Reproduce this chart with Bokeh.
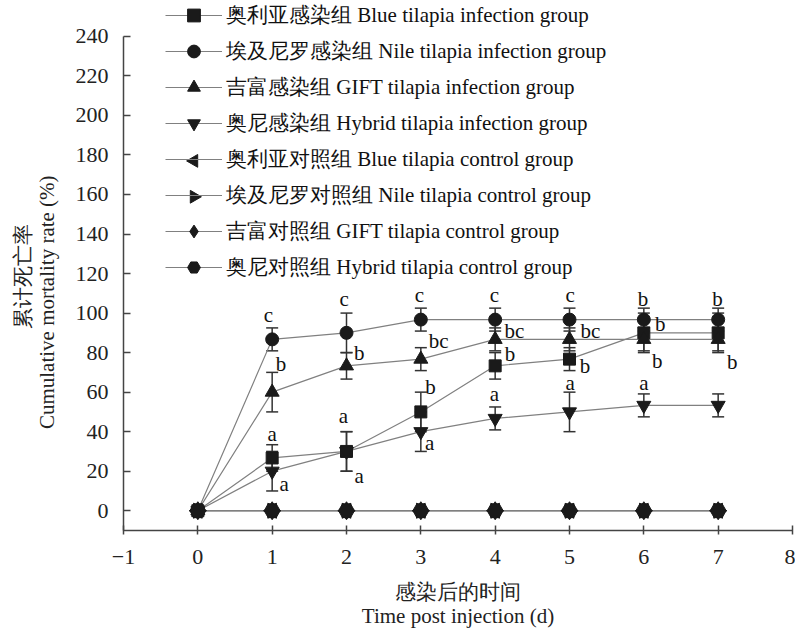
import math
from bokeh.plotting import figure
from bokeh.models import (ColumnDataSource, Whisker, TeeHead, Legend, LegendItem,
                          FixedTicker, Range1d)
from bokeh.core.properties import value
from bokeh.embed import file_html
from bokeh.resources import INLINE

# ---------------- data ----------------
days = [0, 1, 2, 3, 4, 5, 6, 7]
x_ticks = [-1, 0, 1, 2, 3, 4, 5, 6, 7, 8]
y_ticks = [0, 20, 40, 60, 80, 100, 120, 140, 160, 180, 200, 220, 240]

blue_inf = [0, 26.7, 30, 50, 73.3, 76.7, 90, 90]
blue_inf_err = [0, 6.7, 10, 10, 6.7, 5.8, 10, 10]
nile_inf = [0, 86.7, 90, 96.7, 96.7, 96.7, 96.7, 96.7]
nile_inf_err = [0, 5.8, 10, 5.8, 5.8, 5.8, 5.8, 5.8]
gift_inf = [0, 60, 73.3, 76.7, 86.7, 86.7, 86.7, 86.7]
gift_inf_err = [0, 10, 6.7, 5.8, 5.8, 5.8, 5.8, 5.8]
hybrid_inf = [0, 20, 30, 40, 46.7, 50, 53.3, 53.3]
hybrid_inf_err = [0, 10, 10, 10, 5.8, 10, 5.8, 5.8]
blue_ctl = [0, 0, 0, 0, 0, 0, 0, 0]
nile_ctl = [0, 0, 0, 0, 0, 0, 0, 0]
gift_ctl = [0, 0, 0, 0, 0, 0, 0, 0]
hybrid_ctl = [0, 0, 0, 0, 0, 0, 0, 0]

labels = [
    "奥利亚感染组 Blue tilapia infection group",
    "埃及尼罗感染组 Nile tilapia infection group",
    "吉富感染组 GIFT tilapia infection group",
    "奥尼感染组 Hybrid tilapia infection group",
    "奥利亚对照组 Blue tilapia control group",
    "埃及尼罗对照组 Nile tilapia control group",
    "吉富对照组 GIFT tilapia control group",
    "奥尼对照组 Hybrid tilapia control group",
]

# significance letters (day position, % position, letter)
letter_x = [0.95, 1.12, 1.0, 1.16,
            1.97, 2.17, 1.96, 2.17,
            2.98, 3.24, 3.13, 3.12,
            3.99, 4.26, 4.20, 3.99,
            5.01, 5.28, 5.21, 5.01,
            5.99, 6.22, 6.18, 6.0,
            6.99, 7.19]
letter_y = [99, 74, 39, 13.6,
            107, 79.7, 48, 17.6,
            109.4, 85.7, 62.5, 34.3,
            109.4, 90.8, 79.2, 59,
            109.4, 90.8, 73.1, 64.5,
            107, 94.3, 75.6, 64.5,
            107, 75.1]
letter_text = ["c", "b", "a", "a",
               "c", "b", "a", "a",
               "c", "bc", "b", "a",
               "c", "bc", "b", "a",
               "c", "bc", "b", "a",
               "b", "b", "b", "a",
               "b", "b"]

# ---------------- layout ----------------
W, H = 795, 630
BL, BR, BT, BB = 123, 3, 0, 98
X0, X1 = -1, 8
Y0, Y_AXIS_TOP = -10, 240
frame_w = W - BL - BR
frame_h = H - BT - BB
px_per_unit = 496 / (Y_AXIS_TOP - Y0)      # vertical scale of the axis
Y1 = Y0 + frame_h / px_per_unit            # room above the axis for the legend

p = figure(width=W, height=H, x_range=Range1d(X0, X1), y_range=Range1d(Y0, Y1),
           output_backend="svg", toolbar_location=None,
           min_border_left=BL, min_border_right=BR, min_border_top=BT, min_border_bottom=BB)
p.outline_line_color = None
p.grid.visible = False
p.background_fill_color = "white"

series = [
    (blue_inf, blue_inf_err, "square", 0.0, 12),
    (nile_inf, nile_inf_err, "circle", 0.0, 13),
    (gift_inf, gift_inf_err, "triangle", 0.0, 14),
    (hybrid_inf, hybrid_inf_err, "inverted_triangle", 0.0, 14),
    (blue_ctl, None, "triangle", math.pi / 2, 15),
    (nile_ctl, None, "triangle", -math.pi / 2, 15),
    (gift_ctl, None, "diamond", 0.0, 18),
    (hybrid_ctl, None, "hex", 0.0, 16),
]

line_color = "#808080"
ink = "#1a1a1a"

line_rs = []
for vals, err, mk, ang, sz in series:
    line_rs.append(p.line(days, vals, line_color=line_color, line_width=1.2))

for vals, err, mk, ang, sz in series:
    if err is None:
        continue
    src = ColumnDataSource(dict(base=days[1:],
                                upper=[v + e for v, e in zip(vals[1:], err[1:])],
                                lower=[v - e for v, e in zip(vals[1:], err[1:])]))
    w = Whisker(source=src, base="base", upper="upper", lower="lower",
                line_color="#333333", line_width=1.5,
                upper_head=TeeHead(size=12, line_color="#333333", line_width=1.5),
                lower_head=TeeHead(size=12, line_color="#333333", line_width=1.5))
    p.add_layout(w)

marker_rs = []
for vals, err, mk, ang, sz in series:
    marker_rs.append(p.scatter(days, vals, marker=mk, angle=ang, size=sz,
                               fill_color=ink, line_color=ink))

p.text(x=letter_x, y=letter_y, text=letter_text, text_font=value("Liberation Serif"),
       text_font_size="21px", text_align="center", text_baseline="middle", text_color="#111111")

# ---------------- legend ----------------
LEG_X, LEG_Y = 42, 247
GW, GH, SP = 57, 32, 4
rotated = [ang != 0.0 for (_, _, _, ang, _) in series]
items = []
for lab, lr, mr, rot in zip(labels, line_rs, marker_rs, rotated):
    items.append(LegendItem(label=lab, renderers=[lr] if rot else [lr, mr]))
legend = Legend(items=items, location=(LEG_X, LEG_Y), padding=0, margin=0, spacing=SP,
                glyph_width=GW, glyph_height=GH, label_height=20, label_standoff=4,
                label_text_font="Liberation Serif", label_text_font_size="21px",
                label_text_color="#111111", border_line_color=None, background_fill_alpha=0)
p.add_layout(legend)

# legend keys for rotated markers (Bokeh legends do not rotate markers)
n_items = len(items)
leg_h = n_items * GH + (n_items - 1) * SP
kx, ky, ka = [], [], []
for i, (vals, err, mk, ang, sz) in enumerate(series):
    if ang == 0.0:
        continue
    cx_px = LEG_X + GW / 2
    cy_px = LEG_Y + leg_h - GH / 2 - i * (GH + SP)
    kx.append(X0 + cx_px * (X1 - X0) / frame_w)
    ky.append(Y0 + cy_px / px_per_unit)
    ka.append(ang)
p.scatter(x=kx, y=ky, marker="triangle", angle=ka, size=0.4 * GH, fill_color=ink, line_color=ink)

# ---------------- axes ----------------
p.xaxis.ticker = FixedTicker(ticks=x_ticks)
p.yaxis.ticker = FixedTicker(ticks=y_ticks)
p.yaxis.bounds = (Y0, Y_AXIS_TOP)
p.xaxis.major_label_overrides = {-1: "\u22121"}
p.axis.minor_tick_line_color = None
p.axis.axis_line_color = "#444444"
p.axis.axis_line_width = 1.5
p.axis.major_tick_line_color = "#444444"
p.axis.major_tick_line_width = 1.5
p.xaxis.major_tick_in = 5
p.xaxis.major_tick_out = 4
p.yaxis.major_tick_in = 7
p.yaxis.major_tick_out = 0
p.axis.major_label_text_font = "Liberation Serif"
p.axis.major_label_text_font_size = "22px"
p.axis.major_label_text_color = "#222222"
p.xaxis.major_label_standoff = 15
p.yaxis.major_label_standoff = 15

nb = "\u00a0"
p.xaxis.axis_label = "感染后的时间\nTime post injection (d)"
p.yaxis.axis_label = "累计死亡率" + nb * 4 + "\nCumulative mortality rate (%)" + nb * 14
p.axis.axis_label_text_font = "Liberation Serif"
p.axis.axis_label_text_font_size = "21px"
p.axis.axis_label_text_font_style = "normal"
p.axis.axis_label_text_color = "#222222"
p.axis.axis_label_text_line_height = 1.0
p.xaxis.axis_label_standoff = 13
p.yaxis.axis_label_standoff = 14

open("out.html", "w").write(file_html(p, INLINE))
